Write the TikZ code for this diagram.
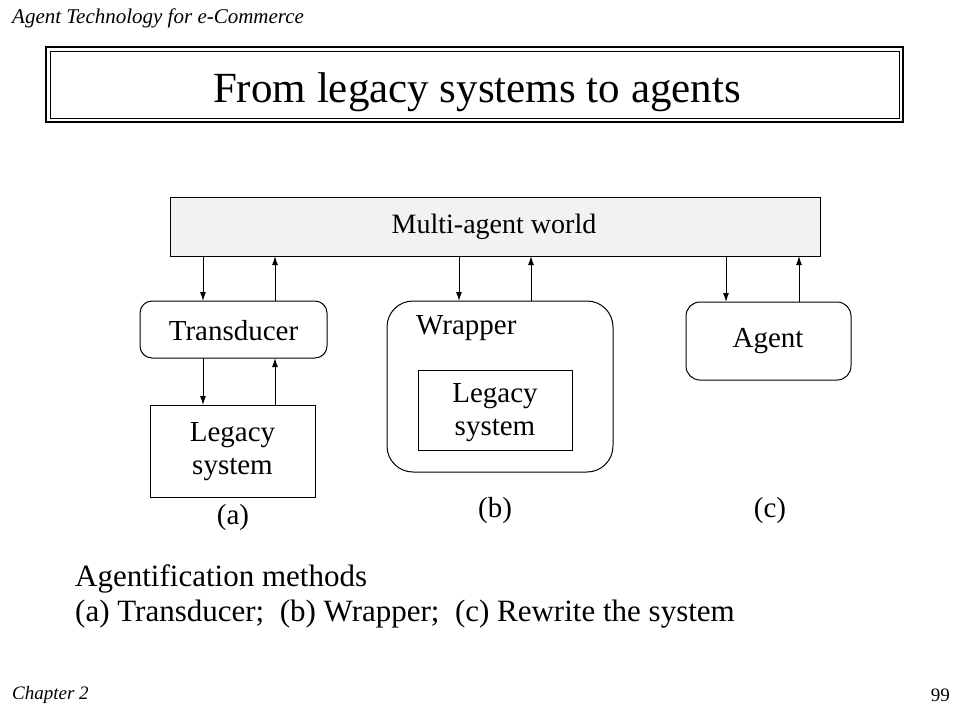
\documentclass[tikz,border=0pt]{standalone}
\usepackage{fontspec}
\setmainfont{Liberation Serif}
\usetikzlibrary{arrows.meta,positioning,calc}
\begin{document}
\begin{tikzpicture}[x=1pt,y=-1pt,
  lbl/.style={font=\fontsize{29}{32}\selectfont,inner sep=0pt,align=center},
  arr/.style={-{Latex[length=9pt,width=6pt]},line width=1pt},
  boxline/.style={draw,line width=1pt},
  rbox/.style={boxline,rounded corners=#1}
]
\useasboundingbox (0,0) rectangle (960,720);
% header / footer
\node[anchor=west,inner sep=0pt,font=\fontsize{21}{24}\selectfont\itshape] (hdr) at (12,18) {Agent Technology for e-Commerce};
\node[anchor=west,inner sep=0pt,font=\fontsize{19}{22}\selectfont\itshape] (chap) at (12,695) {Chapter 2};
\node[anchor=east,inner sep=0pt,font=\fontsize{19}{22}\selectfont] (pg) at (950,695) {99};
% title box
\draw[line width=1.5pt] (46,47) rectangle (903,122);
\draw[line width=1pt] (50,51) rectangle (899,118);
\node[inner sep=0pt,font=\fontsize{43}{46}\selectfont] (title) at (477,92) {From legacy systems to agents};
% multi-agent world
\draw[boxline,fill=black!5] (170,197) rectangle (820,256);
\node[lbl,font=\fontsize{28}{32}\selectfont] (world) at (494,227) {Multi-agent world};
\coordinate (ws) at (495,256);
% transducer
\draw[rbox=12] (140,301) rectangle (327,358);
\node[lbl] (trans) at (233.5,331) {Transducer};
\coordinate (tn) at (233,301);
\coordinate (ts) at (233,358);
% legacy (a)
\draw[boxline] (150,405) rectangle (315,497);
\node[lbl] (lega) at (232.5,452) {Legacy\\[1pt]system};
\coordinate (lan) at (232,405);
\node[lbl] (la) at (233,518) {(a)};
% wrapper
\draw[rbox=26] (387,301) rectangle (613,472);
\coordinate (wn) at (500,301);
\node[lbl,anchor=west] (wrap) at (416,328) {Wrapper};
\draw[boxline] (418,370) rectangle (572,450);
\node[lbl] (legb) at (495,413) {Legacy\\[1pt]system};
\node[lbl] (lb) at (495,511) {(b)};
% agent
\draw[rbox=14] (686,302) rectangle (851,380);
\coordinate (an) at (768,302);
\node[lbl] (agent) at (768,341) {Agent};
\node[lbl] (lc) at (770,511) {(c)};
% arrows
\draw[arr] (ws -| 203,0) -- (tn -| 203,0);
\draw[arr] (tn -| 275,0) -- (ws -| 275,0);
\draw[arr] (ts -| 203,0) -- (lan -| 203,0);
\draw[arr] (lan -| 275,0) -- (ts -| 275,0);
\draw[arr] (ws -| 459,0) -- (wn -| 459,0);
\draw[arr] (wn -| 531,0) -- (ws -| 531,0);
\draw[arr] (ws -| 726,0) -- (an -| 726,0);
\draw[arr] (an -| 799,0) -- (ws -| 799,0);
% caption
\node[anchor=west,inner sep=0pt,font=\fontsize{31}{34}\selectfont] (cap1) at (75,579) {Agentification methods};
\node[anchor=west,inner sep=0pt,font=\fontsize{31}{34}\selectfont] (cap2) at (75,614) {(a) Transducer;\ \ (b) Wrapper;\ \ (c) Rewrite the system};
\end{tikzpicture}
\end{document}
